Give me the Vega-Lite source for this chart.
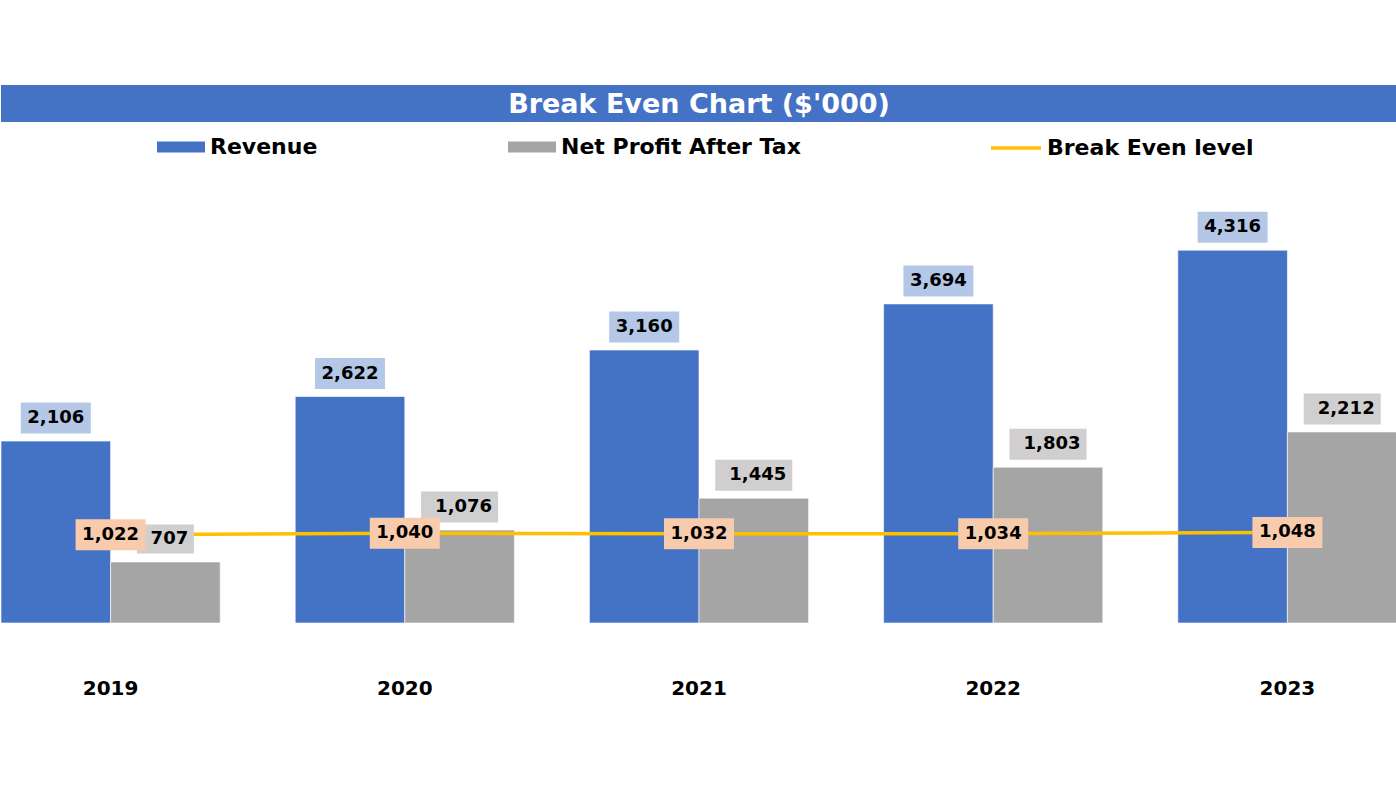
{
  "$schema": "https://vega.github.io/schema/vega-lite/v6.json",
  "padding": {"top": 85, "left": 0, "right": 0, "bottom": 0},
  "background": "white",
  "spacing": 0,
  "config": {"view": {"stroke": null}, "font": "DejaVu Sans", "concat": {"spacing": 0}},
  "vconcat": [
    {
      "width": 1396,
      "height": 37,
      "view": {"fill": "#4472C4", "stroke": null},
      "data": {"values": [{"title": "Break Even Chart ($'000)"}]},
      "mark": {"type": "text", "color": "white", "fontWeight": "bold", "fontSize": 27, "font": "DejaVu Sans", "baseline": "middle", "align": "center", "dy": 1},
      "encoding": {"text": {"field": "title", "type": "nominal"}}
    },
    {
      "width": 1396,
      "height": 501,
      "data": {"values": [
        {"year": "2019", "series": "Revenue", "value": 2106},
        {"year": "2019", "series": "Net Profit After Tax", "value": 707},
        {"year": "2019", "series": "Break Even level", "value": 1022},
        {"year": "2020", "series": "Revenue", "value": 2622},
        {"year": "2020", "series": "Net Profit After Tax", "value": 1076},
        {"year": "2020", "series": "Break Even level", "value": 1040},
        {"year": "2021", "series": "Revenue", "value": 3160},
        {"year": "2021", "series": "Net Profit After Tax", "value": 1445},
        {"year": "2021", "series": "Break Even level", "value": 1032},
        {"year": "2022", "series": "Revenue", "value": 3694},
        {"year": "2022", "series": "Net Profit After Tax", "value": 1803},
        {"year": "2022", "series": "Break Even level", "value": 1034},
        {"year": "2023", "series": "Revenue", "value": 4316},
        {"year": "2023", "series": "Net Profit After Tax", "value": 2212},
        {"year": "2023", "series": "Break Even level", "value": 1048}
      ]},
      "encoding": {
        "x": {"field": "year", "type": "nominal", "scale": {"paddingInner": 0.255, "paddingOuter": 0},
          "axis": {"title": null, "domain": false, "ticks": false, "labelAngle": 0, "labelFontSize": 20, "labelFontWeight": "bold", "labelColor": "black", "labelFont": "DejaVu Sans", "labelPadding": 55}},
        "y": {"field": "value", "type": "quantitative", "scale": {"domain": [0, 5800], "nice": false}, "axis": null}
      },
      "layer": [
        {
          "transform": [{"filter": "datum.series !== 'Break Even level'"}],
          "mark": {"type": "bar", "stroke": "#ffffff", "strokeOpacity": 0.6, "strokeWidth": 1},
          "encoding": {
            "xOffset": {"field": "series", "type": "nominal", "scale": {"domain": ["Revenue", "Net Profit After Tax"], "paddingInner": 0, "paddingOuter": 0}},
            "fill": {"field": "series", "type": "nominal", "scale": {"domain": ["Revenue", "Net Profit After Tax"], "range": ["#4472C4", "#A5A5A5"]},
              "legend": {"orient": "none", "legendX": 156, "legendY": 38, "direction": "horizontal", "title": null, "symbolType": "M-1,-0.23H1V0.23H-1Z", "symbolSize": 2304, "symbolStrokeWidth": 0, "labelFontSize": 22, "labelFontWeight": "bold", "labelColor": "black", "labelFont": "DejaVu Sans", "labelOffset": 5, "labelLimit": 500, "columnPadding": 190, "padding": 0}}
          }
        },
        {
          "transform": [{"filter": "datum.series === 'Break Even level'"}],
          "mark": {"type": "line", "strokeWidth": 3.5},
          "encoding": {
            "stroke": {"field": "series", "type": "nominal", "scale": {"domain": ["Break Even level"], "range": ["#FFC000"]},
              "legend": {"orient": "none", "legendX": 988, "legendY": 36, "title": null, "symbolType": "stroke", "symbolSize": 2500, "symbolStrokeWidth": 3.5, "labelFontSize": 22, "labelFontWeight": "bold", "labelColor": "black", "labelFont": "DejaVu Sans", "labelOffset": 4, "labelLimit": 500, "padding": 0}}
          }
        },
        {
          "transform": [{"filter": "datum.series === 'Net Profit After Tax'"}],
          "mark": {"type": "point", "filled": true, "opacity": 1, "fill": "#D0CECE", "strokeWidth": 0, "yOffset": -23},
          "encoding": {
            "xOffset": {"field": "series", "type": "nominal"},
            "shape": {"condition": {"test": "datum.value < 1000", "value": "M-1,-0.509H1V0.509H-1Z"}, "value": "M-1,-0.403H1V0.403H-1Z"},
            "size": {"condition": {"test": "datum.value < 1000", "value": 3249}, "value": 5929}
          }
        },
        {
          "transform": [{"filter": "datum.series === 'Net Profit After Tax'"}],
          "mark": {"type": "text", "fontSize": 18, "fontWeight": "bold", "color": "black", "font": "DejaVu Sans", "baseline": "middle", "align": "center", "yOffset": -23, "dx": 4},
          "encoding": {
            "xOffset": {"field": "series", "type": "nominal"},
            "text": {"field": "value", "type": "quantitative", "format": ",.0f"}
          }
        },
        {
          "transform": [{"filter": "datum.series === 'Revenue'"}],
          "mark": {"type": "point", "filled": true, "opacity": 1, "fill": "#B4C7E7", "strokeWidth": 0, "yOffset": -23, "shape": "M-1,-0.443H1V0.443H-1Z", "size": 4900},
          "encoding": {
            "xOffset": {"field": "series", "type": "nominal"}
          }
        },
        {
          "transform": [{"filter": "datum.series === 'Revenue'"}],
          "mark": {"type": "text", "fontSize": 18, "fontWeight": "bold", "color": "black", "font": "DejaVu Sans", "baseline": "middle", "align": "center", "yOffset": -23},
          "encoding": {
            "xOffset": {"field": "series", "type": "nominal"},
            "text": {"field": "value", "type": "quantitative", "format": ",.0f"}
          }
        },
        {
          "transform": [{"filter": "datum.series === 'Break Even level'"}],
          "mark": {"type": "point", "filled": true, "opacity": 1, "fill": "#F8CBAD", "strokeWidth": 0, "shape": "M-1,-0.443H1V0.443H-1Z", "size": 4900},
          "encoding": {}
        },
        {
          "transform": [{"filter": "datum.series === 'Break Even level'"}],
          "mark": {"type": "text", "fontSize": 18, "fontWeight": "bold", "color": "black", "font": "DejaVu Sans", "baseline": "middle", "align": "center"},
          "encoding": {
            "text": {"field": "value", "type": "quantitative", "format": ",.0f"}
          }
        }
      ]
    }
  ]
}
